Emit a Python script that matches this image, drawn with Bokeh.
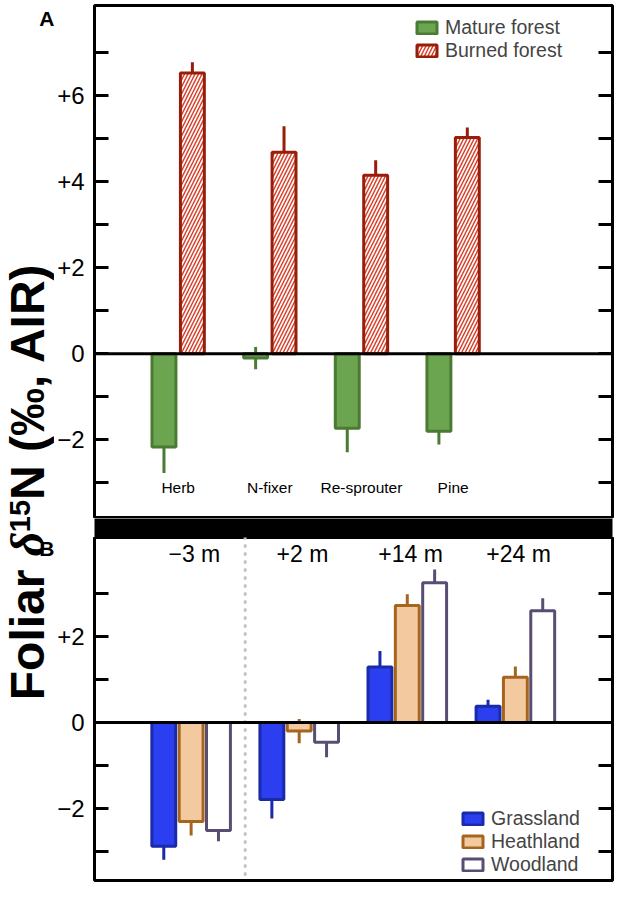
import numpy as np
from math import pi
from bokeh.plotting import figure
from bokeh.models import Range1d, LinearAxis, FixedTicker, Span, Legend, LegendItem
from bokeh.layouts import row, column
from bokeh.embed import file_html
from bokeh.resources import INLINE
from bokeh.core.properties import value

# ---------------- data ----------------
# Panel A: plant functional types, mature vs burned forest
plant_types = ["Herb", "N-fixer", "Re-sprouter", "Pine"]
mature_mean = [-2.17, -0.10, -1.73, -1.80]
mature_se = [0.60, 0.26, 0.56, 0.31]
burned_mean = [6.53, 4.69, 4.15, 5.03]
burned_se = [0.25, 0.60, 0.35, 0.23]
ticks_a = [-2, 0, 2, 4, 6]
minor_ticks_a = [-3, -1, 1, 3, 5, 7]
tick_labels_a = {6: "+6", 4: "+4", 2: "+2", 0: "0", -2: "\u22122"}

# Panel B: elevation relative to water table, three vegetation types
positions_b = ["\u22123 m", "+2 m", "+14 m", "+24 m"]
grass_mean = [-2.88, -1.79, 1.29, 0.38]
grass_se = [0.31, 0.44, 0.37, 0.15]
heath_mean = [-2.30, -0.20, 2.72, 1.05]
heath_se = [0.33, 0.28, 0.26, 0.25]
wood_mean = [-2.51, -0.46, 3.25, 2.60]
wood_se = [0.25, 0.35, 0.31, 0.29]
ticks_b = [-2, 0, 2]
minor_ticks_b = [-3, -1, 1, 3]
tick_labels_b = {2: "+2", 0: "0", -2: "\u22122"}

# ---------------- styles ----------------
FONT = "Liberation Sans"
green_fill, green_line = "#6ca550", "#4b7a33"
burn_line, burn_hatch = "#961e0a", "#d9412b"
grass_fill, grass_line = "#2b3ff0", "#1a2aa8"
heath_fill, heath_line = "#f3c9a0", "#a5651f"
wood_fill, wood_line = "#ffffff", "#594d73"


def style_axes(p, ticks, minor, labels):
    ax = p.yaxis[0]
    ax.ticker = FixedTicker(ticks=ticks, minor_ticks=minor)
    ax.major_label_overrides = {t: labels[t] for t in ticks}
    ax.axis_line_color = None
    for pre in ("major", "minor"):
        setattr(ax, pre + "_tick_in", 14)
        setattr(ax, pre + "_tick_out", 0)
        setattr(ax, pre + "_tick_line_width", 3)
        setattr(ax, pre + "_tick_line_color", "black")
    ax.major_label_standoff = 10
    ax.major_label_text_font = FONT
    ax.major_label_text_font_size = "24px"
    ax.major_label_text_color = "black"
    rax = LinearAxis(ticker=FixedTicker(ticks=[], minor_ticks=sorted(ticks + minor)))
    rax.axis_line_color = None
    rax.major_tick_line_color = None
    rax.minor_tick_in = 14
    rax.minor_tick_out = 0
    rax.minor_tick_line_width = 3
    rax.minor_tick_line_color = "black"
    rax.major_label_standoff = 0
    p.add_layout(rax, "right")
    p.ygrid.visible = False
    p.outline_line_color = "black"
    p.outline_line_width = 3
    p.outline_line_alpha = 1


# ---------------- left label strip (data coords = picture pixels) ----------------
H = 883
lab = figure(width=54, height=H, x_range=Range1d(0, 54), y_range=Range1d(0, H),
             x_axis_type=None, y_axis_type=None, toolbar_location=None,
             output_backend="svg", outline_line_color=None,
             min_border_left=0, min_border_right=0, min_border_top=0, min_border_bottom=0)


def Y(py):
    return H - py


fs = 48
cx = 26.5
y0 = 481 + 218.75
w_foliar = 3.001 * fs
w_delta = 0.5 * fs
w_sup = 1.112 * 29
common = dict(angle=pi / 2, text_align="left", text_baseline="middle", text_color="black")
lab.text(x=[cx], y=[Y(y0)], text=["Foliar "], text_font=value(FONT),
         text_font_style="bold", text_font_size=value(f"{fs}px"), **common)
lab.text(x=[cx], y=[Y(y0 - w_foliar)], text=["\u03b4"], text_font=value("Liberation Serif"),
         text_font_style="bold italic", text_font_size=value(f"{fs}px"), **common)
lab.text(x=[19.5], y=[Y(y0 - w_foliar - w_delta)], text=["15"], text_font=value(FONT),
         text_font_style="bold", text_font_size=value("29px"), **common)
lab.text(x=[cx], y=[Y(y0 - w_foliar - w_delta - w_sup)], text=["N (\u2030, AIR)"],
         text_font=value(FONT), text_font_style="bold", text_font_size=value(f"{fs}px"), **common)
# panel letters
lab.text(x=[54, 54], y=[Y(18), Y(548)], text=["A", "B"], text_font=value(FONT),
         text_font_style="bold", text_font_size=value("21px"), text_align="right",
         text_baseline="middle", text_color="black")

# ---------------- panel A ----------------
PXA = 92.0            # pixels per category
xa0 = 1 - (176 - 92) / PXA
xa1 = xa0 + 520 / PXA
zero_a, ppu = 353.3, 43.0
pa = figure(width=560, height=518, x_range=Range1d(xa0, xa1),
            y_range=Range1d(-(518 - zero_a) / ppu, (zero_a - 5) / ppu),
            x_axis_type=None, toolbar_location=None, output_backend="svg",
            min_border_left=38, min_border_right=2, min_border_top=5, min_border_bottom=0)
style_axes(pa, ticks_a, minor_ticks_a, tick_labels_a)

xa = np.arange(1, len(plant_types) + 1, dtype=float)
off_a, bw_a = 0.155, 0.261
m = np.array(mature_mean); ms = np.array(mature_se)
b = np.array(burned_mean); bs = np.array(burned_se)
pa.segment(x0=xa - off_a, y0=m - ms, x1=xa - off_a, y1=m + ms, line_color=green_line, line_width=3)
pa.segment(x0=xa + off_a, y0=b - bs, x1=xa + off_a, y1=b + bs, line_color=burn_line, line_width=3)
r_m = pa.vbar(x=xa - off_a, top=m, bottom=0, width=bw_a, fill_color=green_fill,
              line_color=green_line, line_width=3)
r_b = pa.vbar(x=xa + off_a, top=b, bottom=0, width=bw_a, fill_color="white",
              hatch_pattern="right_diagonal_line", hatch_color=burn_hatch, hatch_scale=7,
              hatch_weight=1.5, line_color=burn_line, line_width=3)
pa.add_layout(Span(location=0, dimension="width", line_color="black", line_width=3))
pa.text(x=xa, y=[-3.11] * len(xa), text=plant_types, text_font=value(FONT),
        text_font_size=value("15.5px"), text_align="center", text_baseline="middle",
        text_color="black")
leg_a = Legend(items=[LegendItem(label="Mature forest", renderers=[r_m]),
                      LegendItem(label="Burned forest", renderers=[r_b])],
               location=(320, 456), padding=0, margin=0, spacing=0, glyph_width=25,
               glyph_height=15, label_standoff=6, label_text_font=FONT,
               label_text_font_size="19.5px", label_height=15,
               background_fill_alpha=0, border_line_alpha=0)
pa.add_layout(leg_a)

# ---------------- separator ----------------
sep = figure(width=560, height=19, x_axis_type=None, y_axis_type=None, toolbar_location=None,
             output_backend="svg", background_fill_color="black", outline_line_color=None,
             min_border_left=38, min_border_right=0, min_border_top=0, min_border_bottom=0)

# ---------------- panel B ----------------
PXB = 108.5
xb0 = 1 - (189 - 92) / PXB
xb1 = xb0 + 520 / PXB
zero_b = 722.0
pb = figure(width=560, height=346, x_range=Range1d(xb0, xb1),
            y_range=Range1d(-(880 - zero_b) / ppu, (zero_b - 537) / ppu),
            x_axis_type=None, toolbar_location=None, output_backend="svg",
            min_border_left=38, min_border_right=2, min_border_top=0, min_border_bottom=3)
style_axes(pb, ticks_b, minor_ticks_b, tick_labels_b)

xb = np.arange(1, len(positions_b) + 1, dtype=float)
off_b, bw_b = 0.253, 0.221
series_b = [
    ("Grassland", grass_mean, grass_se, grass_fill, grass_line, -off_b),
    ("Heathland", heath_mean, heath_se, heath_fill, heath_line, 0.0),
    ("Woodland", wood_mean, wood_se, wood_fill, wood_line, off_b),
]
pb.add_layout(Span(location=1.5, dimension="height", line_color="#c4c4c4", line_width=3,
                   line_dash="1 7", line_cap="round"))
items_b = []
for name, mean, se, fc, lc, off in series_b:
    mv = np.array(mean); sv = np.array(se)
    pb.segment(x0=xb + off, y0=mv - sv, x1=xb + off, y1=mv + sv, line_color=lc, line_width=3)
for name, mean, se, fc, lc, off in series_b:
    r = pb.vbar(x=xb + off, top=np.array(mean), bottom=0, width=bw_b, fill_color=fc,
                line_color=lc, line_width=3)
    items_b.append(LegendItem(label=name, renderers=[r]))
pb.add_layout(Span(location=0, dimension="width", line_color="black", line_width=3))
pb.text(x=xb + 0.03, y=[(zero_b - 553) / ppu] * len(xb), text=positions_b, text_font=value(FONT),
        text_font_size=value("23px"), text_align="center", text_baseline="middle",
        text_color="black")
leg_b = Legend(items=items_b, location=(366, 4), padding=0, margin=0, spacing=0,
               glyph_width=25, glyph_height=15, label_standoff=6, label_text_font=FONT,
               label_text_font_size="19.5px", label_height=15,
               background_fill_alpha=0, border_line_alpha=0)
pb.add_layout(leg_b)

layout = row(lab, column(pa, sep, pb))
open("out.html", "w").write(file_html(layout, INLINE))
